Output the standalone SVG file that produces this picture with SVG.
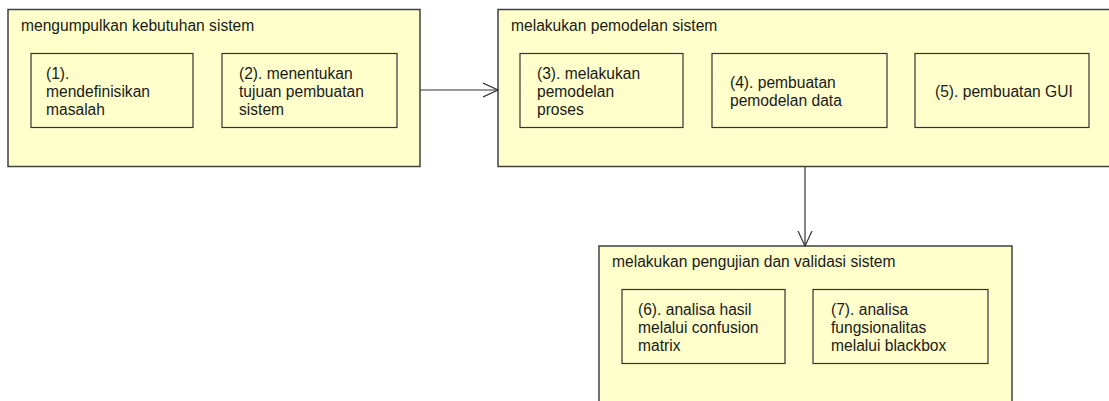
<svg xmlns="http://www.w3.org/2000/svg" width="1109" height="401" viewBox="0 0 1109 401">
<style>
.outer{fill:#ffffcc;stroke:#404040;stroke-width:1.5}
.inner{fill:#ffffcc;stroke:#333333;stroke-width:1.2}
text{font-family:"Liberation Sans",Arial,sans-serif;font-size:15.6px;fill:#1a1a1a}
.conn{stroke:#333333;stroke-width:1.2;fill:none}
</style>
<defs>
<marker id="open" viewBox="0 0 16 16" refX="15" refY="8" markerWidth="16" markerHeight="16" markerUnits="userSpaceOnUse" orient="auto">
<path d="M0,1 L15,8 L0,15" fill="none" stroke="#333333" stroke-width="1.2"/>
</marker>
</defs>
<rect x="0" y="0" width="1109" height="401" fill="#ffffff"/>
<g id="group1">
<rect class="outer" x="8" y="9.5" width="412" height="157"/>
<text x="21" y="31">mengumpulkan kebutuhan sistem</text>
</g>
<g id="node1">
<rect class="inner" x="31" y="53.5" width="162" height="74"/>
<text x="46" y="79">(1).</text>
<text x="46" y="97">mendefinisikan</text>
<text x="46" y="115">masalah</text>
</g>
<g id="node2">
<rect class="inner" x="222" y="53.5" width="175" height="74"/>
<text x="239" y="79">(2). menentukan</text>
<text x="239" y="97">tujuan pembuatan</text>
<text x="239" y="115">sistem</text>
</g>
<g id="group2">
<rect class="outer" x="498" y="9.5" width="614" height="157"/>
<text x="511" y="31">melakukan pemodelan sistem</text>
</g>
<g id="node3">
<rect class="inner" x="520" y="53.5" width="163" height="74"/>
<text x="537" y="79">(3). melakukan</text>
<text x="537" y="97">pemodelan</text>
<text x="537" y="115">proses</text>
</g>
<g id="node4">
<rect class="inner" x="712" y="53.5" width="175" height="74"/>
<text x="730" y="88">(4). pembuatan</text>
<text x="730" y="106">pemodelan data</text>
</g>
<g id="node5">
<rect class="inner" x="915" y="53.5" width="174" height="74"/>
<text x="935" y="97">(5). pembuatan GUI</text>
</g>
<g id="group3">
<rect class="outer" x="599" y="246" width="413" height="170"/>
<text x="612" y="267">melakukan pengujian dan validasi sistem</text>
</g>
<g id="node6">
<rect class="inner" x="622" y="289.5" width="163" height="74"/>
<text x="638" y="315">(6). analisa hasil</text>
<text x="638" y="333">melalui confusion</text>
<text x="638" y="351">matrix</text>
</g>
<g id="node7">
<rect class="inner" x="813" y="289.5" width="175" height="74"/>
<text x="831" y="315">(7). analisa</text>
<text x="831" y="333">fungsionalitas</text>
<text x="831" y="351">melalui blackbox</text>
</g>
<g id="connectors">
<path class="conn" d="M420,90 L498,90" marker-end="url(#open)"/>
<path class="conn" d="M805,167 L805,246" marker-end="url(#open)"/>
</g>
</svg>
